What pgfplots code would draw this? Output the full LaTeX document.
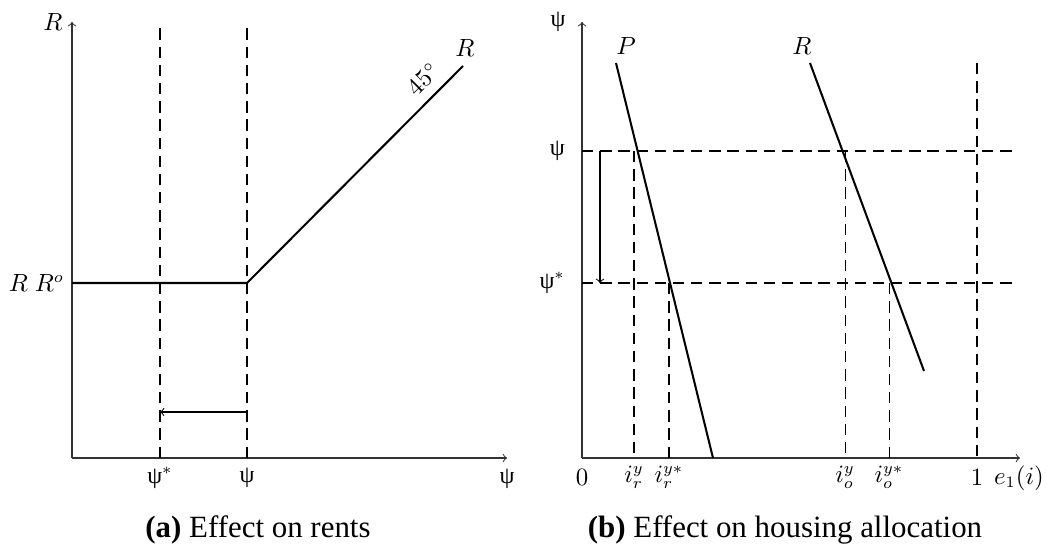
\documentclass[border=0pt]{standalone}
\usepackage{fontspec}
\setmainfont{Liberation Serif}
\usepackage{pgfplots}
\pgfplotsset{compat=1.18}
\begin{document}
\begin{tikzpicture}
\useasboundingbox (0,0) rectangle (1047*0.44pt,551*0.44pt);
\pgfplotsset{
  diag/.style={
    x=0.44pt, y=0.44pt,
    axis lines=left,
    axis line style={->, black!80, line width=0.45pt},
    clip=false, anchor=south west,
    ymin=93, ymax=529,
    major tick length=0pt,
    tick label style={font=\fontsize{10.5}{12}\selectfont},
    xticklabel style={anchor=center, yshift=-8.6pt, inner sep=0.5pt},
  },
  dsh/.style={dash pattern=on 5pt off 3pt},
}
% ---------------- panel (a)
\begin{axis}[diag, at={(72*0.44pt,93*0.44pt)}, xmin=72, xmax=507,
  xtick={160,247}, xticklabels={ψ$^*$, ψ},
  ytick={268}, yticklabels={$R\;R^o$}]
\addplot[black, line width=0.9pt] coordinates {(72,268) (247,268) (463,485)};
\addplot[black, dsh, line width=0.75pt] coordinates {(160,93) (160,526)};
\addplot[black, dsh, line width=0.45pt] coordinates {(247,93) (247,526)};
\addplot[black, ->, line width=0.45pt] coordinates {(247,139) (160,139)};
\node[font=\fontsize{10.5}{12}\selectfont] at (axis cs:53,529) {$R$};
\node[font=\fontsize{10.5}{12}\selectfont] at (axis cs:507,72) {ψ};
\node[font=\fontsize{10.5}{12}\selectfont, rotate=45] at (axis cs:423,472) {$45^\circ$};
\node[font=\fontsize{10.5}{12}\selectfont] at (axis cs:465,503) {$R$};
\end{axis}
% ---------------- panel (b)
\begin{axis}[diag, at={(582*0.44pt,93*0.44pt)}, xmin=582, xmax=1020,
  xtick={582,634,669,845,889,977},
  xticklabels={$0$, $i_r^y$, $i_r^{y*}$, $i_o^y$, $i_o^{y*}$, $1$},
  ytick={268,400}, yticklabels={ψ$^*$, ψ},
  yticklabel style={xshift=-4pt}]
\addplot[black, line width=0.9pt] coordinates {(616,488) (713,93)};
\addplot[black, line width=0.9pt] coordinates {(810,488) (924,180)};
\addplot[black, dsh, line width=0.45pt] coordinates {(582,400) (1018,400)};
\addplot[black, dsh, line width=0.45pt] coordinates {(582,268) (1018,268)};
\addplot[black, dsh, line width=0.45pt] coordinates {(634,400) (634,93)};
\addplot[black, dsh, line width=0.45pt] coordinates {(669,268) (669,93)};
\addplot[black, dsh, line width=0.45pt] coordinates {(845,400) (845,93)};
\addplot[black, dsh, line width=0.45pt] coordinates {(889,268) (889,93)};
\addplot[black, dsh, line width=1.1pt] coordinates {(977,488) (977,93)};
\addplot[black, ->, line width=0.45pt] coordinates {(600,400) (600,268)};
\node[font=\fontsize{10.5}{12}\selectfont] at (axis cs:558,529) {ψ};
\node[font=\fontsize{10.5}{12}\selectfont] at (axis cs:1019,73) {$e_1(i)$};
\node[font=\fontsize{10.5}{12}\selectfont] at (axis cs:626,505) {$P$};
\node[font=\fontsize{10.5}{12}\selectfont] at (axis cs:802,505) {$R$};
\end{axis}
% ---------------- captions
\node[anchor=base, font=\fontsize{13.6}{16}\selectfont] at (258*0.44pt,14*0.44pt) {\textbf{(a)} Effect on rents};
\node[anchor=base, font=\fontsize{13.6}{16}\selectfont] at (785*0.44pt,14*0.44pt) {\textbf{(b)} Effect on housing allocation};
\end{tikzpicture}
\end{document}
